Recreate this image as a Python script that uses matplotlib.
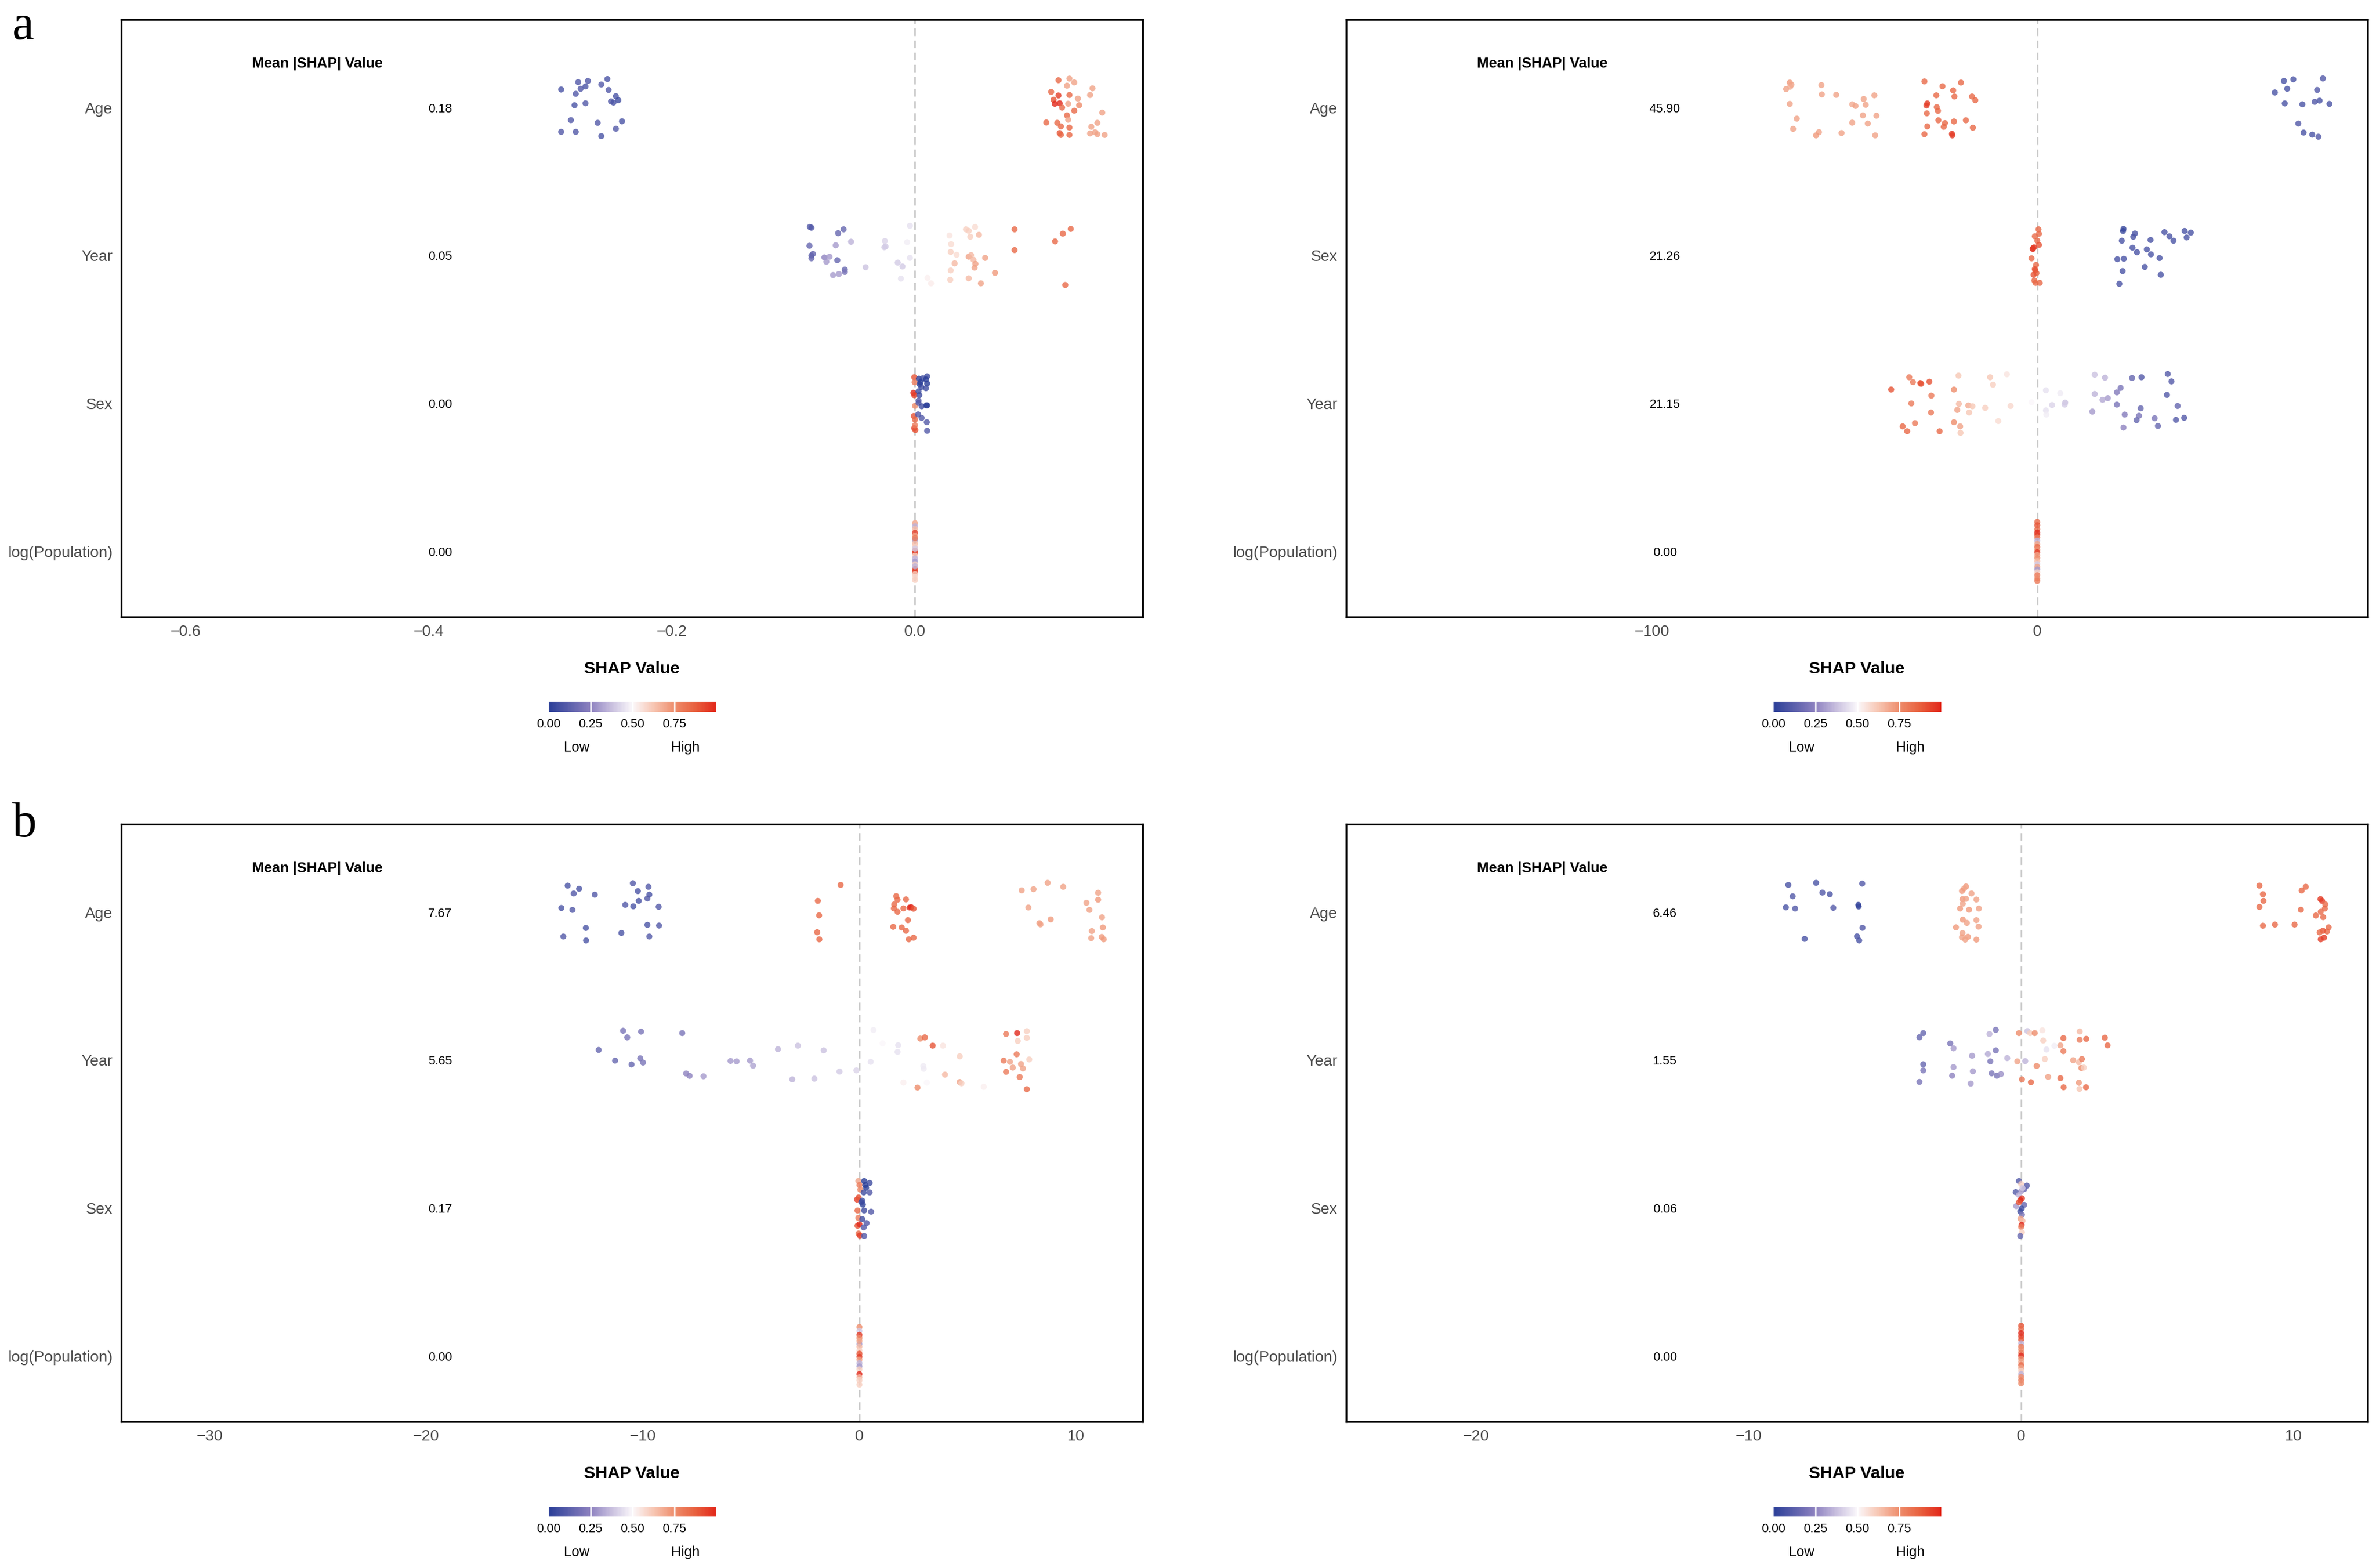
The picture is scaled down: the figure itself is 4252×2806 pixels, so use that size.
import matplotlib
matplotlib.use('Agg')
import matplotlib.pyplot as plt
import matplotlib as mpl
from matplotlib.colors import LinearSegmentedColormap, Normalize
from matplotlib.transforms import blended_transform_factory

plt.rcParams['font.family'] = ['Liberation Sans', 'DejaVu Sans']

# ======================= DATA =======================
# ---- panel a, left ----
a1_features = ['Age', 'Year', 'Sex', 'log(Population)']
a1_mean = ['0.18', '0.05', '0.00', '0.00']
a1_xticks = [-0.6, -0.4, -0.2, 0.0]

a1_age_shap = [-0.291, -0.277, -0.269, -0.271, -0.275, -0.279, -0.280, -0.271, -0.253, -0.258, -0.252,
               -0.246, -0.244, -0.250, -0.248, -0.283, -0.261, -0.241, -0.291, -0.279, -0.258, -0.246,
               0.118, 0.127, 0.131, 0.125, 0.112, 0.118, 0.127, 0.114, 0.115, 0.119, 0.121, 0.126,
               0.134, 0.135, 0.131, 0.125, 0.126, 0.146, 0.144, 0.154, 0.108, 0.117, 0.120, 0.127,
               0.119, 0.120, 0.127, 0.145, 0.150, 0.144, 0.148, 0.150, 0.156]
a1_age_jit = [0.122, 0.172, 0.180, 0.143, 0.127, 0.093, 0.016, 0.029, 0.193, 0.156, 0.119,
              0.077, 0.050, 0.042, 0.034, -0.085, -0.103, -0.093, -0.164, -0.164, -0.193, -0.143,
              0.185, 0.196, 0.170, 0.148, 0.106, 0.082, 0.085, 0.053, 0.026, 0.029, 0.000, 0.026,
              0.061, 0.016, -0.021, -0.053, -0.082, 0.130, 0.085, -0.034, -0.101, -0.103, -0.127, -0.135,
              -0.172, -0.185, -0.185, -0.130, -0.103, -0.175, -0.167, -0.180, -0.185]
a1_age_col = [0.08, 0.10, 0.10, 0.08, 0.10, 0.10, 0.08, 0.10, 0.08, 0.10, 0.10,
              0.08, 0.05, 0.10, 0.08, 0.10, 0.10, 0.08, 0.10, 0.10, 0.08, 0.10,
              0.85, 0.70, 0.70, 0.70, 0.85, 0.95, 0.85, 0.90, 1.00, 1.00, 0.85, 0.70,
              0.70, 0.75, 0.85, 0.85, 0.70, 0.70, 0.70, 0.70, 0.85, 0.85, 0.85, 0.85,
              0.90, 0.85, 0.85, 0.70, 0.70, 0.70, 0.70, 0.70, 0.70]

a1_year_shap = [-0.0865, -0.0852, -0.0632, -0.0587, -0.0868, -0.0652, -0.0526, -0.0852, -0.0839, -0.0852,
                -0.0745, -0.0703, -0.0729, -0.0639, -0.0577, -0.0577, -0.0626, -0.0674, -0.0406, -0.0248,
                -0.0252, -0.0242, -0.0142, -0.0103, -0.0116, -0.0042, -0.0065, -0.0042, 0.0103, 0.0132,
                0.0284, 0.0297, 0.0294, 0.0342, 0.0326, 0.0294, 0.0290, 0.0419, 0.0494, 0.0442,
                0.0455, 0.0526, 0.0442, 0.0461, 0.0481, 0.0497, 0.0490, 0.0577, 0.0442, 0.0542,
                0.0658, 0.0819, 0.0819, 0.1152, 0.1216, 0.1281, 0.1236]
a1_year_jit = [0.193, 0.188, 0.151, 0.177, 0.066, 0.069, 0.093, 0.000, 0.011, -0.019,
               -0.013, -0.008, -0.042, -0.032, -0.095, -0.111, -0.125, -0.132, -0.079, 0.098,
               0.056, 0.061, -0.048, -0.074, -0.156, 0.201, 0.090, -0.016, -0.151, -0.188,
               0.135, 0.077, 0.024, 0.005, -0.053, -0.101, -0.164, 0.177, 0.193, 0.167,
               0.127, 0.140, -0.008, 0.003, -0.029, -0.056, -0.082, -0.016, -0.154, -0.188,
               -0.117, 0.177, 0.037, 0.095, 0.148, 0.180, -0.199]
a1_year_col = [0.10, 0.10, 0.15, 0.15, 0.15, 0.30, 0.35, 0.10, 0.15, 0.15,
               0.25, 0.30, 0.30, 0.15, 0.15, 0.20, 0.30, 0.30, 0.38, 0.42,
               0.40, 0.40, 0.40, 0.40, 0.45, 0.45, 0.48, 0.45, 0.52, 0.53,
               0.55, 0.57, 0.60, 0.57, 0.65, 0.60, 0.60, 0.60, 0.57, 0.60,
               0.60, 0.65, 0.70, 0.65, 0.65, 0.70, 0.70, 0.70, 0.65, 0.70,
               0.72, 0.85, 0.85, 0.85, 0.85, 0.85, 0.85]

a1_sex_shap = [-0.0006, -0.0003, -0.0013, -0.0006, 0.0000, -0.0010, 0.0000, -0.0006, 0.0003, 0.0000,
               0.0032, 0.0065, 0.0100, 0.0090, 0.0039, 0.0052, 0.0100, 0.0090, 0.0035, 0.0029,
               0.0029, 0.0055, 0.0100, 0.0094, 0.0026, 0.0055, 0.0097, 0.0100, 0.0029, 0.0045]
a1_sex_jit = [0.177, 0.143, 0.072, 0.056, -0.016, -0.085, -0.109, -0.167, -0.180, -0.148,
              0.167, 0.170, 0.183, 0.162, 0.130, 0.111, 0.135, 0.103, 0.056, 0.019,
              0.003, -0.019, -0.013, -0.013, -0.074, -0.098, -0.127, -0.185, 0.082, 0.143]
a1_sex_col = [0.90, 0.80, 1.00, 0.95, 0.75, 0.90, 0.85, 0.95, 0.90, 0.80,
              0.00, 0.05, 0.05, 0.00, 0.00, 0.05, 0.00, 0.05, 0.05, 0.10,
              0.10, 0.05, 0.00, 0.00, 0.10, 0.10, 0.10, 0.10, 0.05, 0.00]

a1_pop_shap = [0.0, 0.0, 0.0, 0.0, 0.0, 0.0, 0.0, 0.0, 0.0, 0.0, 0.0,
               0.0, 0.0, 0.0, 0.0, 0.0, 0.0, 0.0, 0.0, 0.0, 0.0, 0.0]
a1_pop_jit = [0.191, 0.170, 0.151, 0.125, 0.106, 0.077, 0.053, 0.032, 0.005, -0.011, -0.029,
              -0.048, -0.069, -0.087, -0.119, -0.135, -0.154, -0.172, -0.193, -0.101, 0.090, 0.019]
a1_pop_col = [0.70, 0.35, 0.65, 0.95, 0.70, 0.30, 0.65, 0.60, 0.90, 0.95, 0.60,
              0.35, 0.30, 0.60, 0.90, 0.95, 0.62, 0.58, 0.60, 0.35, 0.80, 0.40]

# ---- panel a, right ----
a2_features = ['Age', 'Sex', 'Year', 'log(Population)']
a2_mean = ['45.90', '21.26', '21.15', '0.00']
a2_xticks = [-100, 0]

a2_age_shap = [-64.20, -63.77, -65.15, -64.09, -56.00, -55.89, -52.17, -64.20, -62.39, -63.34, -56.64, -57.38,
               -50.78, -48.01, -47.16, -45.03, -44.50, -42.26, -45.24, -41.73, -48.01, -43.97, -42.05,
               -29.28, -24.59, -19.80, -26.19, -21.82, -21.50, -16.93, -16.08, -28.53, -28.74, -26.08, -25.76,
               -28.64, -25.66, -28.53, -23.95, -24.27, -21.61, -18.52, -16.71, -29.28, -22.14, -22.04,
               63.98, 66.43, 74.10, 61.64, 64.83, 72.61, 64.20, 68.77, 71.97, 73.24, 75.80, 67.71,
               69.09, 71.33, 72.93]
a2_age_jit = [0.169, 0.155, 0.125, 0.141, 0.152, 0.089, 0.086, 0.025, -0.075, -0.144, -0.166, -0.188,
              -0.172, 0.022, 0.011, 0.058, 0.019, 0.083, -0.053, -0.055, -0.102, -0.108, -0.188,
              0.177, 0.144, 0.169, 0.083, 0.116, 0.075, 0.075, 0.050, 0.028, 0.014, 0.003, -0.022,
              -0.039, -0.086, -0.127, -0.105, -0.130, -0.094, -0.086, -0.136, -0.180, -0.177, -0.188,
              0.180, 0.191, 0.197, 0.102, 0.127, 0.119, 0.028, 0.022, 0.039, 0.047, 0.025, -0.108,
              -0.169, -0.183, -0.197]
a2_age_col = [0.72, 0.70, 0.70, 0.68, 0.70, 0.70, 0.70, 0.70, 0.70, 0.70, 0.70, 0.72,
              0.70, 0.68, 0.70, 0.70, 0.70, 0.70, 0.70, 0.70, 0.70, 0.70, 0.70,
              0.85, 0.85, 0.85, 0.85, 0.85, 0.85, 0.85, 0.85, 0.95, 0.95, 0.85, 0.85,
              0.85, 0.85, 0.85, 0.85, 0.85, 0.85, 0.85, 0.85, 0.85, 0.95, 0.95,
              0.08, 0.08, 0.10, 0.08, 0.08, 0.10, 0.08, 0.08, 0.10, 0.08, 0.08, 0.10,
              0.08, 0.08, 0.10]

a2_sex_shap = [0.32, 0.43, -0.64, 0.00, 0.43, -0.85, -1.17, -1.49, -0.32, -0.64, -0.21, -0.96,
               -0.75, -0.43, 0.64, -0.53, -1.06,
               22.36, 22.25, 25.34, 21.93, 24.91, 29.38, 33.00, 34.28, 35.34, 38.22, 39.82, 38.75,
               24.70, 25.87, 28.42, 29.49, 20.76, 22.46, 31.73, 27.89, 22.14, 32.04, 21.29]
a2_sex_jit = [0.177, 0.147, 0.130, 0.100, 0.072, 0.055, 0.044, -0.019, -0.064, -0.091, -0.119, -0.130,
              -0.169, -0.185, -0.185, -0.100, 0.050,
              0.180, 0.166, 0.149, 0.100, 0.127, 0.105, 0.158, 0.130, 0.100, 0.166, 0.155, 0.122,
              0.053, 0.022, 0.042, 0.008, -0.025, -0.022, -0.017, -0.077, -0.105, -0.130, -0.191]
a2_sex_col = [0.85, 0.85, 0.85, 0.85, 0.90, 0.95, 1.00, 0.85, 0.85, 0.90, 0.85, 0.90,
              0.85, 0.85, 0.85, 0.90, 0.95,
              0.03, 0.03, 0.08, 0.08, 0.08, 0.08, 0.08, 0.08, 0.08, 0.08, 0.08, 0.08,
              0.08, 0.08, 0.08, 0.08, 0.08, 0.08, 0.08, 0.08, 0.08, 0.08, 0.08]

a2_year_shap = [-37.90, -33.22, -32.26, -30.34, -30.13, -28.00, -27.47, -32.68, -27.57, -34.92,
                -33.75, -31.73, -25.34, -21.61, -20.44, -20.33, -20.76, -21.61, -20.01, -19.91,
                -17.89, -16.82, -17.67, -13.52, -12.24, -11.50, -7.88, -6.92, -10.11,
                2.24, 2.24, 3.83, 5.96, 7.24, 7.13, 2.34, -1.49,
                14.90, 17.57, 14.90, 16.93, 18.31, 14.27, 20.65, 21.61, 20.65, 24.59,
                27.04, 26.83, 22.68, 26.40, 25.76, 22.36, 30.45, 31.30, 33.85, 34.81,
                33.64, 36.41, 35.98, 38.11]
a2_year_jit = [0.094, 0.177, 0.144, 0.138, 0.133, 0.147, 0.053, 0.000, -0.061, -0.155,
               -0.188, -0.133, -0.188, 0.094, 0.188, -0.003, -0.044, -0.127, -0.155, -0.199,
               -0.014, -0.019, -0.061, -0.030, 0.177, 0.127, 0.197, -0.017, -0.119,
               0.089, -0.047, -0.011, 0.069, 0.006, -0.008, -0.075, 0.008,
               0.194, 0.174, 0.064, 0.025, 0.036, -0.055, 0.075, 0.105, -0.008, 0.172,
               0.177, -0.033, -0.075, -0.083, -0.113, -0.163, -0.100, -0.152, 0.199, 0.149,
               0.058, -0.017, -0.111, -0.097]
a2_year_col = [0.90, 0.80, 0.80, 0.90, 0.90, 0.90, 0.80, 0.80, 0.80, 0.85,
               0.85, 0.80, 0.85, 0.75, 0.62, 0.65, 0.70, 0.75, 0.70, 0.62,
               0.68, 0.62, 0.62, 0.60, 0.62, 0.60, 0.55, 0.58, 0.57,
               0.45, 0.45, 0.42, 0.47, 0.38, 0.40, 0.48, 0.50,
               0.38, 0.35, 0.35, 0.33, 0.30, 0.30, 0.22, 0.20, 0.20, 0.15,
               0.10, 0.15, 0.22, 0.20, 0.15, 0.25, 0.20, 0.15, 0.10, 0.10,
               0.10, 0.15, 0.10, 0.10]

a2_pop_shap = [0.0, 0.0, 0.0, 0.0, 0.0, 0.0, 0.0, 0.0, 0.0, 0.0, 0.0,
               0.0, 0.0, 0.0, 0.0, 0.0, 0.0, 0.0, 0.0, 0.0, 0.0]
a2_pop_jit = [0.199, 0.177, 0.149, 0.127, 0.111, 0.094, 0.072, 0.050, 0.030, 0.011, -0.006,
              -0.025, -0.044, -0.066, -0.086, -0.105, -0.122, -0.141, -0.161, -0.183, -0.199]
a2_pop_col = [0.85, 0.90, 0.85, 1.00, 0.95, 0.80, 0.35, 0.70, 0.85, 0.75, 0.95,
              0.70, 0.75, 0.65, 0.40, 0.70, 0.30, 0.60, 0.80, 0.75, 0.80]

# ---- panel b, left ----
b1_features = ['Age', 'Year', 'Sex', 'log(Population)']
b1_mean = ['7.67', '5.65', '0.17', '0.00']
b1_xticks = [-30, -20, -10, 0, 10]

b1_age_shap = [-13.47, -13.19, -12.94, -12.22, -13.76, -13.25, -12.63, -13.67, -12.62, -10.46, -10.23,
               -9.74, -9.70, -9.79, -10.19, -10.81, -10.44, -9.27, -9.79, -9.25, -10.99, -9.70,
               -0.87, -1.92, -1.86, -1.95, -1.85, 1.70, 1.76, 1.61, 1.59, 1.76, 2.03,
               2.15, 2.32, 2.39, 2.50, 2.24, 1.56, 1.95, 2.15, 2.28, 2.50,
               7.49, 8.04, 8.69, 9.41, 7.80, 8.31, 8.36, 8.83, 10.48, 10.62, 11.02, 11.02,
               11.20, 11.24, 10.73, 10.70, 11.19, 11.28]
b1_age_jit = [0.180, 0.127, 0.159, 0.119, 0.029, 0.016, -0.106, -0.164, -0.191, 0.196, 0.143,
              0.172, 0.119, 0.093, 0.077, 0.050, 0.040, 0.037, -0.085, -0.090, -0.140, -0.164,
              0.185, 0.077, -0.021, -0.135, -0.183, 0.109, 0.085, 0.053, 0.026, 0.003, 0.026,
              0.087, 0.032, 0.034, 0.024, -0.053, -0.098, -0.103, -0.125, -0.183, -0.172,
              0.148, 0.156, 0.199, 0.172, 0.032, -0.074, -0.082, -0.048, 0.064, 0.016, 0.132, 0.085,
              -0.034, -0.103, -0.127, -0.175, -0.167, -0.183]
b1_age_col = [0.08, 0.10, 0.08, 0.10, 0.08, 0.10, 0.08, 0.10, 0.08, 0.10, 0.08,
              0.10, 0.08, 0.10, 0.08, 0.10, 0.08, 0.10, 0.08, 0.10, 0.08, 0.10,
              0.85, 0.85, 0.85, 0.85, 0.85, 0.85, 0.85, 0.85, 0.85, 0.85, 0.85,
              0.85, 1.00, 1.00, 0.90, 0.85, 0.85, 0.85, 0.85, 0.85, 0.85,
              0.70, 0.70, 0.70, 0.70, 0.70, 0.72, 0.70, 0.72, 0.70, 0.70, 0.70, 0.72,
              0.70, 0.72, 0.70, 0.70, 0.72, 0.72]

b1_year_shap = [-10.91, -10.08, -10.72, -12.04, -11.28, -10.52, -10.12, -9.99, -8.18, -8.00,
                -7.84, -7.20, -5.95, -5.67, -5.05, -4.91, -3.76, -2.84, -1.65, -3.10,
                -2.08, -0.92, -0.14, 0.52, 0.65, 1.07, 1.79, 1.76, 2.95, 2.97,
                3.11, 2.03, 2.81, 3.02, 3.38, 3.86, 4.63, 3.95, 4.63, 4.71, 2.68, 5.74,
                6.77, 7.28, 7.73, 7.73, 7.31, 7.26, 6.66, 6.95, 7.08, 7.46, 7.55, 7.84, 6.77, 7.40, 7.73]
b1_year_jit = [0.199, 0.193, 0.154, 0.069, -0.003, -0.029, 0.013, -0.016, 0.183, -0.090,
               -0.106, -0.109, -0.005, -0.008, -0.003, -0.037, 0.074, 0.098, 0.066, -0.130,
               -0.125, -0.077, -0.069, -0.011, 0.204, 0.114, 0.101, 0.056, -0.040, -0.058,
               -0.151, -0.151, 0.146, 0.154, 0.098, 0.098, 0.026, -0.098, -0.148, -0.156, -0.185, -0.180,
               0.177, 0.183, 0.196, 0.151, 0.130, 0.040, -0.003, -0.011, -0.050, -0.026, -0.056, 0.005,
               -0.079, -0.114, -0.196]
b1_year_col = [0.20, 0.20, 0.20, 0.15, 0.15, 0.15, 0.20, 0.20, 0.20, 0.25,
               0.25, 0.30, 0.30, 0.30, 0.30, 0.32, 0.35, 0.38, 0.38, 0.35,
               0.38, 0.40, 0.42, 0.45, 0.48, 0.50, 0.45, 0.45, 0.47, 0.47,
               0.50, 0.52, 0.75, 0.85, 0.90, 0.55, 0.60, 0.65, 0.70, 0.60, 0.75, 0.52,
               0.80, 1.00, 0.60, 0.60, 0.60, 0.80, 0.80, 0.70, 0.70, 0.70, 0.70, 0.60, 0.80, 0.80, 0.85]

b1_sex_shap = [-0.05, 0.00, -0.11, -0.04, -0.09, -0.05, -0.09, 0.00, -0.04, 0.02, 0.04,
               0.22, 0.27, 0.47, 0.31, 0.20, 0.47, 0.13, 0.16, 0.22, 0.54, 0.13, 0.33, 0.20, 0.22, 0.09]
b1_sex_jit = [0.183, 0.156, 0.058, 0.072, -0.016, -0.066, -0.119, -0.109, -0.172, -0.185, 0.125,
              0.183, 0.156, 0.170, 0.138, 0.106, 0.106, 0.050, 0.024, -0.016, -0.024, -0.074,
              -0.101, -0.130, -0.188, 0.040]
b1_sex_col = [0.70, 0.80, 0.95, 0.90, 0.85, 0.80, 0.90, 1.00, 0.85, 0.95, 0.75,
              0.00, 0.00, 0.05, 0.00, 0.05, 0.10, 0.05, 0.00, 0.05, 0.10, 0.05, 0.10, 0.10, 0.10, 0.05]

b1_pop_shap = [0.0, 0.0, 0.0, 0.0, 0.0, 0.0, 0.0, 0.0, 0.0, 0.0, 0.0, 0.0, 0.0, 0.0, 0.0, 0.0, 0.0, 0.0]
b1_pop_jit = [0.196, 0.170, 0.143, 0.122, 0.082, 0.064, 0.037, 0.016, -0.005, -0.024, -0.048,
              -0.069, -0.090, -0.122, -0.143, -0.164, -0.193, 0.103]
b1_pop_col = [0.75, 0.40, 0.95, 0.75, 0.30, 0.65, 0.60, 0.90, 0.95, 0.70, 0.35,
              0.30, 0.60, 1.00, 0.65, 0.60, 0.60, 0.70]

# ---- panel b, right ----
b2_features = ['Age', 'Year', 'Sex', 'log(Population)']
b2_mean = ['6.46', '1.55', '0.06', '0.00']
b2_xticks = [-20, -10, 0, 10]

b2_age_shap = [-8.54, -8.38, -8.63, -8.29, -7.52, -7.29, -7.02, -6.89, -7.94, -5.83, -5.97, -5.96,
               -5.82, -6.02, -5.94,
               -2.02, -2.09, -2.17, -1.82, -2.15, -2.02, -1.64, -2.24, -2.14, -1.91, -1.55, -2.14,
               -1.99, -1.64, -2.39, -2.15, -1.95, -2.17, -2.05, -1.64, -1.56,
               8.74, 8.87, 8.89, 8.74, 8.87, 9.31, 10.03, 10.26, 10.29, 10.44, 10.81, 10.98,
               11.04, 11.16, 11.14, 10.99, 11.08, 11.28, 11.22, 11.07, 10.95, 11.11, 10.99]
b2_age_jit = [0.185, 0.108, 0.033, 0.025, 0.199, 0.133, 0.122, 0.030, -0.180, 0.194, 0.050, 0.039,
              -0.105, -0.163, -0.191,
              0.174, 0.161, 0.144, 0.127, 0.089, 0.091, 0.086, 0.025, 0.058, 0.017, 0.025, -0.050,
              -0.072, -0.053, -0.102, -0.141, -0.166, -0.169, -0.185, -0.185, -0.097,
              0.180, 0.122, 0.077, 0.036, -0.091, -0.083, -0.083, 0.017, 0.147, 0.172, -0.022, 0.089,
              0.077, 0.053, 0.025, 0.003, -0.033, -0.102, -0.130, -0.125, -0.136, -0.172, -0.183]
b2_age_col = [0.08, 0.10, 0.08, 0.10, 0.08, 0.10, 0.08, 0.10, 0.08, 0.10, 0.02, 0.02,
              0.10, 0.08, 0.08,
              0.72, 0.70, 0.72, 0.70, 0.72, 0.70, 0.70, 0.72, 0.70, 0.72, 0.70, 0.72,
              0.70, 0.70, 0.72, 0.70, 0.72, 0.70, 0.70, 0.72, 0.70,
              0.85, 0.85, 0.85, 0.85, 0.85, 0.85, 0.85, 0.85, 0.85, 0.85, 0.85, 0.95,
              0.95, 0.85, 0.85, 0.85, 0.85, 0.85, 0.85, 0.90, 0.85, 0.95, 0.95]

b2_year_shap = [-3.73, -3.59, -3.59, -3.59, -3.73, -2.60, -2.48, -2.48, -2.53, -1.80,
                -1.77, -1.85, -1.16, -0.93, -0.93, -1.22, -1.13, -1.08, -0.89, -0.74,
                -0.51, 0.15, 0.23, 0.33, 0.50, -0.08, -0.14, 0.03, 0.36, 0.57,
                0.78, 0.81, 0.93, 0.87, 0.99, 1.22, 1.44, 1.55, 1.55, 1.91,
                2.12, 2.23, 2.21, 2.30, 2.15, 2.15, 2.39, 1.44, 1.56, 2.12,
                2.14, 2.38, 3.07, 3.17]
b2_year_jit = [0.155, 0.183, -0.028, -0.069, -0.147, 0.113, 0.080, -0.047, -0.105, 0.030,
               -0.075, -0.158, 0.177, 0.205, 0.066, 0.042, -0.008, -0.089, -0.105, -0.094,
               0.014, -0.006, 0.197, 0.183, 0.183, 0.183, -0.008, -0.130, -0.149, -0.039,
               0.202, 0.133, 0.072, 0.008, -0.113, 0.097, 0.100, 0.149, 0.061, 0.000,
               -0.014, 0.008, -0.053, -0.050, 0.194, 0.138, 0.144, -0.122, -0.183, -0.152,
               -0.194, -0.183, 0.152, 0.100]
b2_year_col = [0.15, 0.15, 0.15, 0.20, 0.20, 0.20, 0.30, 0.30, 0.25, 0.30,
               0.30, 0.30, 0.35, 0.20, 0.20, 0.33, 0.20, 0.20, 0.20, 0.28,
               0.35, 0.35, 0.38, 0.60, 0.75, 0.75, 0.70, 0.80, 0.85, 0.75,
               0.55, 0.60, 0.45, 0.60, 0.70, 0.48, 0.70, 0.85, 0.80, 0.70,
               0.65, 0.80, 0.75, 0.60, 0.65, 0.80, 0.85, 0.85, 0.85, 0.72,
               0.62, 0.85, 0.85, 0.85]

b2_sex_shap = [-0.08, 0.00, 0.21, 0.12, 0.00, -0.20, -0.08, 0.03, -0.03, 0.11, -0.18,
               0.02, -0.03, 0.03, -0.02, 0.05, 0.02, 0.00, 0.03, -0.03, 0.05, -0.08]
b2_sex_jit = [0.183, 0.163, 0.152, 0.130, 0.114, 0.108, 0.089, 0.066, 0.053, 0.022, 0.014,
              -0.003, -0.022, -0.044, -0.072, -0.086, -0.113, -0.127, -0.163, -0.188, 0.136, 0.039]
b2_sex_col = [0.10, 0.60, 0.10, 0.15, 0.30, 0.10, 0.35, 0.95, 1.00, 0.15, 0.30,
              0.05, 0.05, 0.20, 0.70, 0.65, 1.00, 0.80, 0.60, 0.15, 0.40, 0.90]

b2_pop_shap = [0.0, 0.0, 0.0, 0.0, 0.0, 0.0, 0.0, 0.0, 0.0, 0.0, 0.0, 0.0, 0.0, 0.0, 0.0, 0.0, 0.0, 0.0, 0.0]
b2_pop_jit = [0.205, 0.183, 0.155, 0.133, 0.111, 0.086, 0.064, 0.044, 0.022, 0.003, -0.017,
              -0.039, -0.061, -0.080, -0.100, -0.122, -0.141, -0.163, -0.185]
b2_pop_col = [0.90, 0.85, 1.00, 0.95, 0.90, 0.35, 0.80, 0.75, 0.80, 1.00, 0.75,
              0.70, 0.85, 0.70, 0.60, 0.35, 0.75, 0.80, 0.75]

cbar_ticks = [0.0, 0.25, 0.5, 0.75]
legend_words = ['Low', 'High']

# ======================= STYLE / LAYOUT =======================
W, H = 4252, 2806
DPI = 300
fig = plt.figure(figsize=(W / DPI, H / DPI), dpi=DPI)

cmap = LinearSegmentedColormap.from_list(
    'shap', [(0.0, '#2B3F98'), (0.25, '#8E82C0'), (0.375, '#C9C0DF'), (0.5, '#FBF8FB'),
             (0.625, '#F7C6B3'), (0.75, '#EE8D6C'), (0.875, '#E8603E'), (1.0, '#E2281B')])
norm = Normalize(0, 1)

AX_TEXT = '#4D4D4D'


def px_rect(x0, y0, x1, y1):
    return [x0 / W, 1 - y1 / H, (x1 - x0) / W, (y1 - y0) / H]


panels = [
    dict(feat=a1_features, mean=a1_mean, xticks=a1_xticks, xlim=(-0.6528, 0.1873),
         data=[(a1_age_shap, a1_age_jit, a1_age_col), (a1_year_shap, a1_year_jit, a1_year_col),
               (a1_sex_shap, a1_sex_jit, a1_sex_col), (a1_pop_shap, a1_pop_jit, a1_pop_col)],
         ax=(217, 35, 2045, 1104), cb=(982, 1256, 1282, 1274)),
    dict(feat=a2_features, mean=a2_mean, xticks=a2_xticks, xlim=(-179.3, 85.7),
         data=[(a2_age_shap, a2_age_jit, a2_age_col), (a2_sex_shap, a2_sex_jit, a2_sex_col),
               (a2_year_shap, a2_year_jit, a2_year_col), (a2_pop_shap, a2_pop_jit, a2_pop_col)],
         ax=(2409, 35, 4237, 1104), cb=(3174, 1256, 3474, 1274)),
    dict(feat=b1_features, mean=b1_mean, xticks=b1_xticks, xlim=(-34.08, 13.08),
         data=[(b1_age_shap, b1_age_jit, b1_age_col), (b1_year_shap, b1_year_jit, b1_year_col),
               (b1_sex_shap, b1_sex_jit, b1_sex_col), (b1_pop_shap, b1_pop_jit, b1_pop_col)],
         ax=(217, 1475, 2045, 2544), cb=(982, 2696, 1282, 2714)),
    dict(feat=b2_features, mean=b2_mean, xticks=b2_xticks, xlim=(-24.76, 12.71),
         data=[(b2_age_shap, b2_age_jit, b2_age_col), (b2_year_shap, b2_year_jit, b2_year_col),
               (b2_sex_shap, b2_sex_jit, b2_sex_col), (b2_pop_shap, b2_pop_jit, b2_pop_col)],
         ax=(2409, 1475, 4237, 2544), cb=(3174, 2696, 3474, 2714)),
]

for p in panels:
    x0, y0, x1, y1 = p['ax']
    ax = fig.add_axes(px_rect(x0, y0, x1, y1))
    n = len(p['feat'])
    rows = [n - i for i in range(n)]
    ax.axvline(0, color='#C8C8C8', lw=0.65, dashes=(5, 3), zorder=1)
    for r, (sv, jv, cv) in zip(rows, p['data']):
        ax.scatter(sv, [r + j for j in jv], c=cv, cmap=cmap, norm=norm, s=6.8,
                   alpha=0.8, linewidths=0, zorder=3)
    ax.set_xlim(*p['xlim'])
    ax.set_ylim(0.557, 4.595)
    ax.set_yticks(rows)
    ax.set_yticklabels(p['feat'])
    ax.set_xticks(p['xticks'])
    ax.tick_params(axis='both', length=0, labelsize=6.7, labelcolor=AX_TEXT)
    ax.tick_params(axis='y', pad=3.7)
    ax.tick_params(axis='x', pad=3.3)
    for s in ax.spines.values():
        s.set_linewidth(0.8)
        s.set_color('black')
    tr = blended_transform_factory(ax.transAxes, ax.transData)
    ax.text(0.192, n + 0.295, 'Mean |SHAP| Value', transform=tr, ha='center', va='center',
            fontsize=6.2, fontweight='bold', color='black')
    for r, m in zip(rows, p['mean']):
        ax.text(0.312, r, m, transform=tr, ha='center', va='center_baseline', fontsize=5.3,
                color='black')
    # x label
    xc = (x0 + x1) / 2
    fig.text(xc / W, 1 - (y1 + 93) / H, 'SHAP Value', ha='center', va='center',
             fontsize=7.3, fontweight='bold', color='black')
    # colour bar
    cx0, cy0, cx1, cy1 = p['cb']
    cax = fig.add_axes(px_rect(cx0, cy0, cx1, cy1))
    cb = mpl.colorbar.ColorbarBase(cax, cmap=cmap, norm=norm, orientation='horizontal')
    cb.outline.set_visible(False)
    cb.set_ticks(cbar_ticks)
    cb.set_ticklabels(['%.2f' % t for t in cbar_ticks])
    cax.tick_params(axis='x', length=0, labelsize=5.3, pad=3.0, labelcolor='black')
    for t in cbar_ticks[1:]:
        cax.axvline(t, color='white', lw=0.6)
    fig.text((cx0 + 0.167 * (cx1 - cx0)) / W, 1 - (cy1 + 64) / H, legend_words[0],
             ha='center', va='center', fontsize=6.0, color='black')
    fig.text((cx0 + 0.817 * (cx1 - cx0)) / W, 1 - (cy1 + 64) / H, legend_words[1],
             ha='center', va='center', fontsize=6.0, color='black')

fig.text(22 / W, 1 - 70 / H, 'a', ha='left', va='baseline', fontsize=21,
         family=['Liberation Serif', 'DejaVu Serif'])
fig.text(22 / W, 1 - 1497 / H, 'b', ha='left', va='baseline', fontsize=21,
         family=['Liberation Serif', 'DejaVu Serif'])

fig.savefig('out.png', dpi=DPI, facecolor='white')
